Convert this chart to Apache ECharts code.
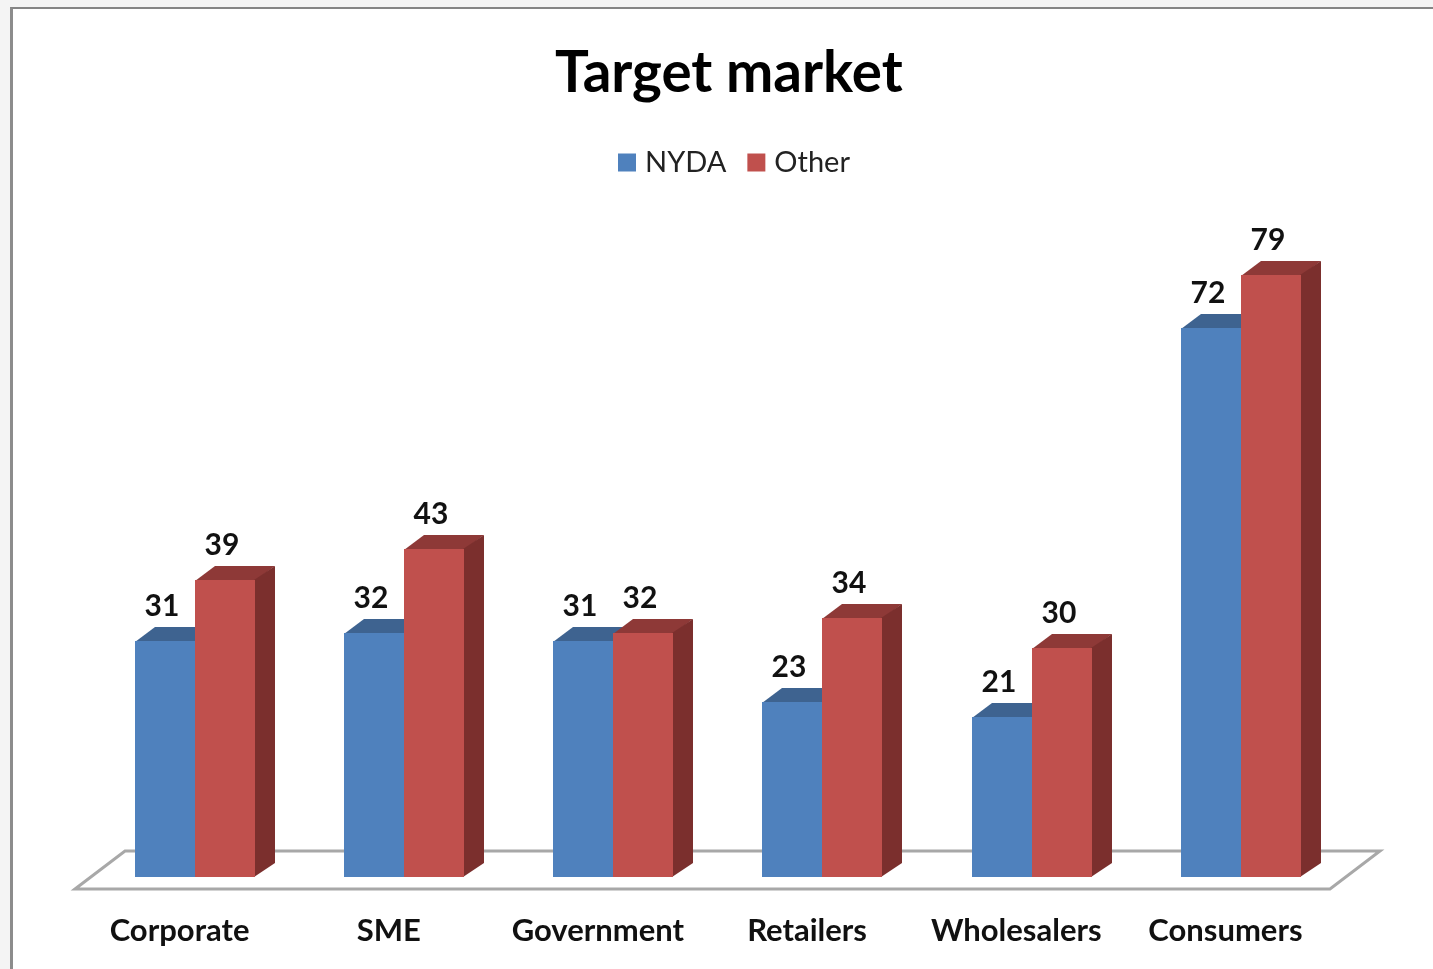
<!DOCTYPE html>
<html><head><meta charset="utf-8">
<style>
html,body{margin:0;padding:0;width:1433px;height:969px;overflow:hidden;background:#f4f4f4}
#frame{position:absolute;left:10px;top:7px;width:1440px;height:1000px;background:#fff;border-left:3px solid #8c8c8c;border-top:2px solid #858585;box-sizing:border-box}
#chart{position:absolute;left:0;top:0;width:1433px;height:969px;filter:blur(0.6px)}
</style>
<script src="https://cdn.jsdelivr.net/npm/echarts@6/dist/echarts.min.js"></script>
</head><body><div id="frame"></div><div id="chart"></div>
<script>
const categories = ['Corporate','SME','Government','Retailers','Wholesalers','Consumers'];
const nydaValues = [31,32,31,23,21,72];
const otherValues = [39,43,32,34,30,79];
const seriesNames = ['NYDA','Other'];
const font = 'Lato, Carlito, Calibri, sans-serif';

const barRatio = 60/209.2, offsetX = 15.4, offsetY = -12, depthX = 20, depthY = 14;

function barRenderer(side, front, top, right){
  return function(params, api){
    const p = api.coord([api.value(0), api.value(1)]);
    const z = api.coord([api.value(0), 0]);
    const w = Math.round(api.size([1,0])[0]*barRatio);
    const x0 = Math.round(p[0]+offsetX+side*w), x1 = x0+w, yT = Math.round(p[1]+offsetY), yB = Math.round(z[1]+offsetY);
    return {type:'group',children:[
      {type:'polygon',shape:{points:[[x0,yT+1],[x0+depthX,yT-depthY],[x1+depthX,yT-depthY],[x1,yT+1]]},style:{fill:top}},
      {type:'polygon',shape:{points:[[x1-1,yT],[x1+depthX,yT-depthY],[x1+depthX,yB-depthY],[x1-1,yB]]},style:{fill:right}},
      {type:'rect',shape:{x:x0,y:yT,width:w,height:yB-yT},style:{fill:front}},
      {type:'text',style:{text:String(api.value(1)),x:x0+w/2-3,y:yT-35,align:'center',verticalAlign:'middle',
        font:'bold 30px '+font,fill:'#111'}}
    ]};
  };
}
function floorRenderer(params){
  const c = params.coordSys, dx = 50, dy = 38, b = c.y+c.height;
  return {type:'polygon',silent:true,shape:{points:[[c.x,b],[c.x+dx,b-dy],[c.x+c.width+dx,b-dy],[c.x+c.width,b]]},
    style:{fill:'#fff',stroke:'#a8a8a8',lineWidth:3}};
}
const chart = echarts.init(document.getElementById('chart'),null,{renderer:'canvas'});
chart.setOption({
  animation:false,
  backgroundColor:'transparent',
  title:{text:'Target market',left:555,top:45,padding:0,textStyle:{fontFamily:font,fontWeight:'bold',fontSize:56.5,color:'#000'}},
  legend:{data:seriesNames,left:618,top:148,padding:0,itemWidth:18,itemHeight:18,itemGap:21,icon:'rect',
    textStyle:{fontFamily:font,fontSize:29,color:'#222',padding:[0,0,0,4]}},
  grid:{left:75,right:103,top:279.4,bottom:80,containLabel:false},
  xAxis:{type:'category',data:categories,axisLine:{show:false},axisTick:{show:false},
    axisLabel:{fontFamily:font,fontWeight:'bold',fontSize:31,color:'#111',margin:26,interval:0}},
  yAxis:{type:'value',min:0,max:80,interval:20,show:false,splitLine:{show:false}},
  series:[
    {type:'custom',name:'Floor',z:1,data:[[0,0]],renderItem:floorRenderer,encode:{x:0,y:1},silent:true},
    {type:'custom',name:seriesNames[0],z:2,itemStyle:{color:'#4F81BD'},encode:{x:0,y:1},
      data:nydaValues.map((v,i)=>[i,v]),renderItem:barRenderer(-1,'#4F81BD','#3E6390','#3E6390')},
    {type:'custom',name:seriesNames[1],z:3,itemStyle:{color:'#C0504D'},encode:{x:0,y:1},
      data:otherValues.map((v,i)=>[i,v]),renderItem:barRenderer(0,'#C0504D','#8E3937','#7B2F2D')}
  ]
});
</script></body></html>
